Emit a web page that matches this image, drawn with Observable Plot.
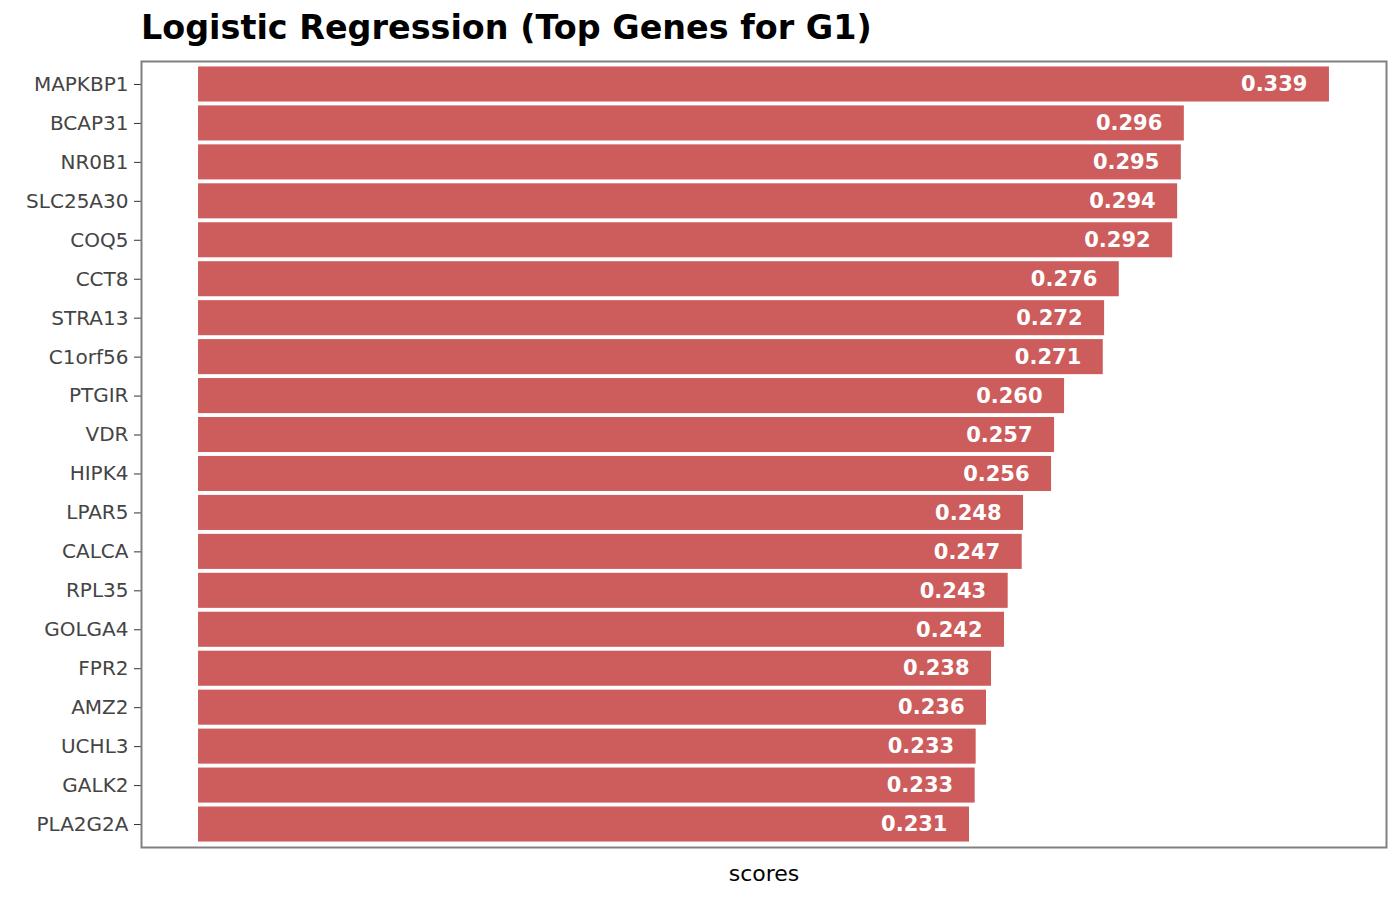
<!DOCTYPE html>
<html><head><meta charset="utf-8">
<script src="https://cdn.jsdelivr.net/npm/d3@7"></script>
<script src="https://cdn.jsdelivr.net/npm/@observablehq/plot@0.6"></script>
<style>
body{margin:0;background:#fff;font-family:"DejaVu Sans",sans-serif;}
#title{position:absolute;left:141px;top:8px;font-size:33.4px;font-weight:bold;color:#000;}
#chart{position:absolute;left:0;top:0;}
</style></head>
<body>
<div id="chart"></div>
<div id="title">Logistic Regression (Top Genes for G1)</div>
<script>
const genes = ["MAPKBP1","BCAP31","NR0B1","SLC25A30","COQ5","CCT8","STRA13","C1orf56","PTGIR","VDR","HIPK4","LPAR5","CALCA","RPL35","GOLGA4","FPR2","AMZ2","UCHL3","GALK2","PLA2G2A"];
const scores = [0.339,0.2955,0.2946,0.2935,0.292,0.276,0.2716,0.2712,0.2596,0.2566,0.2557,0.2473,0.2469,0.2427,0.2416,0.2377,0.2362,0.2331,0.2328,0.2311];
const labels = ["0.339","0.296","0.295","0.294","0.292","0.276","0.272","0.271","0.260","0.257","0.256","0.248","0.247","0.243","0.242","0.238","0.236","0.233","0.233","0.231"];
const data = genes.map((g,i)=>({gene:g, score:scores[i], label:labels[i]}));

const chart = Plot.plot({
  width:1400, height:900,
  marginTop:61, marginBottom:53, marginLeft:141, marginRight:14,
  style:{fontFamily:"DejaVu Sans", fontSize:"20px", color:"#444"},
  x:{domain:[-0.0171,0.3561], axis:null},
  y:{domain:genes, paddingInner:0.1, paddingOuter:0.14, round:false, label:null},
  marks:[
    Plot.barX(data,{x:"score", y:"gene", fill:"#cd5c5c"}),
    Plot.text(data,{x:"score", y:"gene", text:"label", textAnchor:"end", dx:-22, fill:"white", fontWeight:"bold", fontSize:21}),
    Plot.axisY({fontSize:20, tickSize:7, tickPadding:6, label:null, stroke:"#333", fill:"#444"}),
    Plot.frame({stroke:"#808080", strokeWidth:2}),
    Plot.text(["scores"],{frameAnchor:"bottom", dy:26, fontSize:22, fill:"#000", lineAnchor:"middle"})
  ]
});
document.getElementById("chart").append(chart);
</script>
</body></html>
